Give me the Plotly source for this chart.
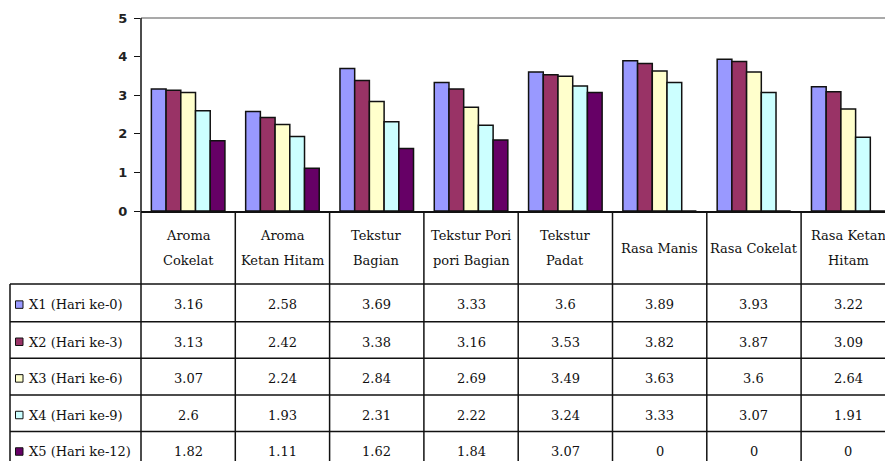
import plotly.graph_objects as go

# ---- data ----
categories = ["Aroma Cokelat", "Aroma Ketan Hitam", "Tekstur Bagian", "Tekstur Pori pori Bagian",
              "Tekstur Padat", "Rasa Manis", "Rasa Cokelat", "Rasa Ketan Hitam"]
header_lines = [["Aroma", "Cokelat"], ["Aroma", "Ketan Hitam"], ["Tekstur", "Bagian"],
                ["Tekstur Pori", "pori Bagian"], ["Tekstur", "Padat"], ["Rasa Manis"],
                ["Rasa Cokelat"], ["Rasa Ketan", "Hitam"]]
series_names = ["X1 (Hari ke-0)", "X2 (Hari ke-3)", "X3 (Hari ke-6)", "X4 (Hari ke-9)", "X5 (Hari ke-12)"]
x1 = [3.16, 2.58, 3.69, 3.33, 3.6, 3.89, 3.93, 3.22]
x2 = [3.13, 2.42, 3.38, 3.16, 3.53, 3.82, 3.87, 3.09]
x3 = [3.07, 2.24, 2.84, 2.69, 3.49, 3.63, 3.6, 2.64]
x4 = [2.6, 1.93, 2.31, 2.22, 3.24, 3.33, 3.07, 1.91]
x5 = [1.82, 1.11, 1.62, 1.84, 3.07, 0, 0, 0]
series_values = [x1, x2, x3, x4, x5]
colors = ["#9999FF", "#993366", "#FFFFCC", "#CCFFFF", "#660066"]
y_ticks = [0, 1, 2, 3, 4, 5]

# ---- layout geometry (page pixels; body margin is removed) ----
W, H = 885, 461
L, T, PB = 141, 18, 211
CAT_W = 94.3
x_hi = -0.5 + (W - L) / CAT_W

def xp(px):
    return (px - L) / (W - L)

def yp(py):
    return (PB - py) / (PB - T)

fig = go.Figure()
for name, vals, col in zip(series_names, series_values, colors):
    fig.add_trace(go.Bar(x=list(range(len(categories))), y=vals, name=name,
                         marker=dict(color=col, line=dict(color="#111111", width=1.5)),
                         hoverinfo="y+name"))

shapes = []
ann = []
LINE = dict(color="#111111", width=1.5)

# top border of plot area
shapes.append(dict(type="line", xref="paper", yref="paper", x0=0, x1=1, y0=1, y1=1,
                   line=dict(color="#8c8c8c", width=1.5)))

header_bottom = 284
row_bounds = [284, 321.7, 358.3, 395, 431.5, 468]
legend_left = 10
n = len(categories)

for i in range(n + 1):
    px = L + i * CAT_W
    shapes.append(dict(type="line", xref="paper", yref="paper",
                       x0=xp(px), x1=xp(px), y0=yp(T if i == 0 else PB), y1=yp(H + 20),
                       line=LINE))
shapes.append(dict(type="line", xref="paper", yref="paper", x0=xp(legend_left), x1=xp(legend_left),
                   y0=yp(header_bottom), y1=yp(H + 20), line=LINE))
for rb in row_bounds[:-1]:
    shapes.append(dict(type="line", xref="paper", yref="paper", x0=xp(legend_left), x1=xp(W + 30),
                       y0=yp(rb), y1=yp(rb), line=LINE))

SERIF = "DejaVu Serif"
FS = 13
TXT = "#111111"
for i, lines in enumerate(header_lines):
    cx = L + (i + 0.5) * CAT_W
    ys = [248] if len(lines) == 1 else [235, 260]
    for ln, yy in zip(lines, ys):
        ann.append(dict(x=xp(cx), y=yp(yy), xref="paper", yref="paper", text=ln, showarrow=False,
                        xanchor="center", yanchor="middle", font=dict(family=SERIF, size=FS, color=TXT)))

for r, (name, vals, col) in enumerate(zip(series_names, series_values, colors)):
    cy = (row_bounds[r] + row_bounds[r + 1]) / 2 + 2
    shapes.append(dict(type="rect", xref="paper", yref="paper",
                       x0=xp(15.5), x1=xp(23), y0=yp(cy + 3.5), y1=yp(cy - 4),
                       fillcolor=col, line=dict(color="#111111", width=1)))
    ann.append(dict(x=xp(27), y=yp(cy), xref="paper", yref="paper", text=name, showarrow=False,
                    xanchor="left", yanchor="middle", font=dict(family=SERIF, size=FS, color=TXT)))
    for i, v in enumerate(vals):
        cx = L + (i + 0.5) * CAT_W
        ann.append(dict(x=xp(cx), y=yp(cy), xref="paper", yref="paper", text=f"{v:g}",
                        showarrow=False, xanchor="center", yanchor="middle",
                        font=dict(family=SERIF, size=FS, color=TXT)))

fig.update_layout(
    width=W, height=H,
    margin=dict(l=L, r=0, t=T, b=H - PB, pad=0),
    paper_bgcolor="white", plot_bgcolor="white",
    barmode="group", bargap=0.22, bargroupgap=0,
    showlegend=False,
    shapes=shapes, annotations=ann,
    xaxis=dict(range=[-0.5, x_hi], showticklabels=False, ticks="", showgrid=False,
               zeroline=False, showline=True, linecolor="#111111", linewidth=1.5, fixedrange=True),
    yaxis=dict(range=[0, 5], tickvals=y_ticks, ticks="outside", ticklen=6, tickwidth=1.2,
               tickcolor="#111111", showgrid=False, zeroline=False, showline=False,
               ticklabelstandoff=4,
               tickfont=dict(family="DejaVu Sans", size=13, color="#222222", weight="bold"),
               fixedrange=True),
)

fig.write_html("out.html", config={"displayModeBar": False},
               post_script="document.body.style.margin='0px';document.body.style.overflow='hidden';")
